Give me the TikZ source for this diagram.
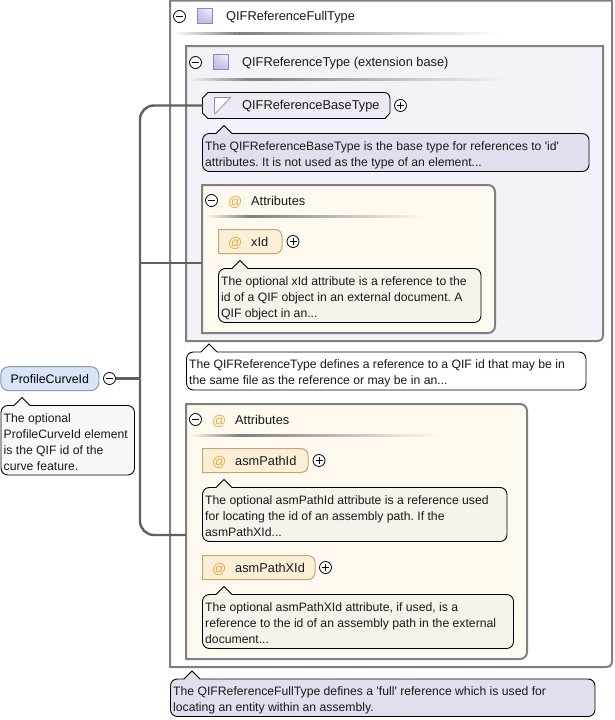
\documentclass[tikz,border=0pt]{standalone}
\usepackage{fontspec}
\usetikzlibrary{shadings}
\setmainfont{Liberation Sans}
\newfontfamily\plainsans{Liberation Sans}
\frenchspacing
\definecolor{boxline}{HTML}{808080}
\definecolor{wire}{HTML}{606060}
\definecolor{typefill}{HTML}{F4F1F9}
\definecolor{attrfill}{HTML}{FFF9EF}
\definecolor{elemfill}{HTML}{D9E5F7}
\definecolor{elemedge}{HTML}{8A99AA}
\definecolor{basefill}{HTML}{EFE8F5}
\definecolor{attrnode}{HTML}{FCEFD8}
\definecolor{attredge}{HTML}{C0A878}
\definecolor{docgrey}{HTML}{F8F8F8}
\definecolor{docpurple}{HTML}{E3DEEE}
\definecolor{docattr}{HTML}{F7F3EC}
\definecolor{atcolor}{HTML}{F0A840}
\definecolor{iconedge}{HTML}{9482BE}
\definecolor{icondark}{HTML}{C4B8E2}
\tikzset{
  x=1pt,y=-1pt,
  lbl/.style={font=\fontsize{12.8}{16}\selectfont,inner sep=0pt,anchor=west,text=black!90},
  atsign/.style={font=\fontsize{14}{16}\selectfont,inner sep=0pt,anchor=west,text=atcolor},
  doc/.style={font=\plainsans\fontsize{12.2}{16}\selectfont,inner sep=0pt,anchor=north west,align=left,text=black!90},
  toggle/.style={circle,draw=black,fill=white,line width=.8pt,minimum size=12pt,inner sep=0pt},
  container/.style={draw=boxline,line width=2pt},
  wirepath/.style={draw=wire,line width=2.4pt,rounded corners=14pt},
  attrbox/.style={draw=attredge,line width=1pt,fill=attrnode},
}
% collapse (minus) and expand (plus) buttons
\newcommand{\minusbtn}[3]{\node[toggle] (#1) at (#2,#3) {};
  \draw[line width=.8pt] (#2-3.5,#3) -- (#2+3.5,#3);}
\newcommand{\plusbtn}[3]{\node[toggle] (#1) at (#2,#3) {};
  \draw[line width=.8pt] (#2-3.5,#3) -- (#2+3.5,#3) (#2,#3-3.5) -- (#2,#3+3.5);}
% documentation bubble: name, x1, y1, x2, y2, pointer x, fill, text
\newcommand{\bubble}[8]{
  \draw[draw=black,line width=.9pt,fill=#7]
    (#2+7,#3) -- (#6-8,#3) -- (#6,#3-8) -- (#6+8,#3) -- (#4-7,#3)
    .. controls (#4-3,#3) and (#4,#3+3) .. (#4,#3+7) -- (#4,#5-7)
    .. controls (#4,#5-3) and (#4-3,#5) .. (#4-7,#5) -- (#2+7,#5)
    .. controls (#2+3,#5) and (#2,#5-3) .. (#2,#5-7) -- (#2,#3+7)
    .. controls (#2,#3+3) and (#2+3,#3) .. (#2+7,#3) -- cycle;
  \node[doc] (#1) at (#2+2.5,#3+7.5) {#8};}
% attribute node: x1, y1, x2, y2
\newcommand{\attrshape}[4]{
  \draw[attrbox] (#1,#2) -- (#3-7,#2) .. controls (#3-3,#2) and (#3,#2+3) .. (#3,#2+7) -- (#3,#4-7)
    .. controls (#3,#4-3) and (#3-3,#4) .. (#3-7,#4) -- (#1,#4) -- cycle;}
% group box with its two right-hand corners rounded: x1, y1, x2, y2
\newcommand{\groupshape}[4]{
  \draw[container,fill=attrfill] (#1,#2) -- (#3-7,#2) .. controls (#3-3,#2) and (#3,#2+3) .. (#3,#2+7) -- (#3,#4-7)
    .. controls (#3,#4-3) and (#3-3,#4) .. (#3-7,#4) -- (#1,#4) -- cycle;}
% fading rule beneath a heading: x1, x2, y, background
\newcommand{\headrule}[4]{
  \shade[left color=#4,right color=boxline] (#1,#3-1) rectangle (#1+.2*#2-.2*#1,#3+1);
  \shade[left color=boxline,middle color=#4!75!boxline,right color=#4] (#1+.2*#2-.2*#1,#3-1) rectangle (#2,#3+1);}
% type glyph
\newcommand{\typeicon}[2]{
  \shade[lower left=icondark,upper right=white!92!icondark,lower right=icondark,upper left=icondark!70,draw=iconedge,line width=1pt]
    (#1,#2) rectangle (#1+15,#2+15);}
\begin{document}
\begin{tikzpicture}
\useasboundingbox (0,0) rectangle (614,720);
\fill[white] (0,0) rectangle (614,720);

% outer complex type
\draw[container] (170,0.5) -- (612,0.5) -- (612,661) .. controls (612,665) and (610,667) .. (606,667) -- (170,667) -- cycle;
\minusbtn{fullminus}{179.5}{16.5}
\typeicon{197.5}{8.5}
\node[lbl] (fulltype) at (226,17) {QIFReferenceFullType};
\headrule{172}{500}{33}{white}

% extension base
\draw[container,fill=typefill] (186,46) -- (603,46) -- (603,335) .. controls (603,339) and (601,341) .. (597,341) -- (186,341) -- cycle;
\minusbtn{baseminus}{195.5}{62.5}
\typeicon{213.5}{54.5}
\node[lbl] (basetype) at (242,63) {QIFReferenceType (extension base)};
\headrule{188}{505}{79}{typefill}

% base type node
\draw[draw=black,line width=.9pt,fill=basefill] (208,92.5) -- (384,92.5) .. controls (388,92.5) and (390,95) .. (390,99) -- (390,113)
  -- (385,118.5) -- (208,118.5) -- (202.5,113) -- (202.5,98) -- cycle;
\coordinate (basenode) at (202.5,105.5);
\fill[white] (214.5,97) -- (231,97) -- (214.5,114) -- cycle;
\draw[iconedge,line width=1pt] (214.5,114) -- (214.5,97) -- (231,97);
\draw[gray!70,line width=1pt] (231,97) -- (215,114);
\node[lbl] (basename) at (242,106) {QIFReferenceBaseType};
\plusbtn{baseplus}{400.5}{105.5}
\bubble{basedoc}{202.5}{133.5}{589}{171.5}{224}{docpurple}{The QIFReferenceBaseType is the base type for references to 'id'\\attributes. It is not used as the type of an element...}

% attribute group of the extension base
\groupshape{202}{185}{495}{333}
\minusbtn{xminus}{211.5}{200.5}
\node[atsign] (xat) at (228,202) {@};
\node[lbl] (xattrs) at (251,201) {Attributes};
\headrule{205}{425}{216}{attrfill}
\attrshape{218.5}{229.5}{282}{253.5}
\node[atsign] (xidat) at (228,243) {@};
\node[lbl] (xid) at (251,242) {xId};
\plusbtn{xplus}{293}{241.5}
\bubble{xdoc}{218.5}{268.5}{481}{322.5}{240}{docattr}{The optional xId attribute is a reference to the\\id of a QIF object in an external document. A\\QIF object in an...}

\bubble{typedoc}{186.5}{352}{586}{390}{209}{white}{The QIFReferenceType defines a reference to a QIF id that may be in\\the same file as the reference or may be in an...}

% attribute group of the full type
\groupshape{186}{404}{527}{659}
\minusbtn{asmminus}{195.5}{419.5}
\node[atsign] (asmat) at (212,421) {@};
\node[lbl] (asmattrs) at (235,420) {Attributes};
\headrule{189}{440}{435}{attrfill}

\attrshape{202.5}{448.5}{308}{472.5}
\node[atsign] (pidat) at (212,462) {@};
\node[lbl] (pid) at (235,461) {asmPathId};
\plusbtn{pidplus}{319}{460.5}
\bubble{piddoc}{202.5}{487.5}{507}{541.5}{224}{docattr}{The optional asmPathId attribute is a reference used\\for locating the id of an assembly path. If the\\asmPathXId...}

\attrshape{202.5}{555.5}{315}{579.5}
\node[atsign] (pxat) at (212,569) {@};
\node[lbl] (px) at (235,568) {asmPathXId};
\plusbtn{pxplus}{325.5}{567.5}
\bubble{pxdoc}{202.5}{594.5}{513.5}{648.5}{224}{docattr}{The optional asmPathXId attribute, if used, is a\\reference to the id of an assembly path in the external\\document...}

\bubble{fulldoc}{170.5}{679}{595}{716.5}{192}{docpurple}{The QIFReferenceFullType defines a 'full' reference which is used for\\locating an entity within an assembly.}

% global element
\node[draw=elemedge,fill=elemfill,line width=1pt,rounded corners=8pt,minimum width=98pt,minimum height=24pt,inner sep=0pt,font=\fontsize{12.4}{16}\selectfont] (element) at (49.8,378.7) {ProfileCurveId};
\minusbtn{elemminus}{109.5}{378.5}
\bubble{elemdoc}{1}{405.5}{134.5}{475}{22}{docgrey}{The optional\\ProfileCurveId element\\is the QIF id of the\\curve feature.}

% connectors
\coordinate (junction) at (140,378.5);
\coordinate (midattr) at (202,263);
\coordinate (lowattr) at (186,535);
\draw[draw=wire,line width=3pt] (elemminus) -- (junction);
\draw[wirepath] (basenode) -- (140,105.5) -- (junction);
\draw[wirepath] (lowattr) -- (140,535) -- (junction);
\draw[draw=wire,line width=2pt] (140,263) -- (midattr);
\end{tikzpicture}
\end{document}
